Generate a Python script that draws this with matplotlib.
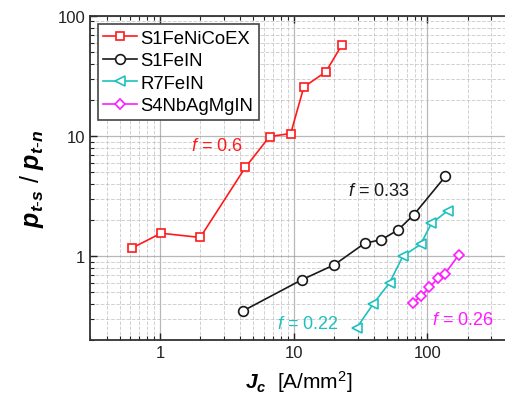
import numpy as np
import matplotlib
matplotlib.use("Agg")
import matplotlib.pyplot as plt
from matplotlib.ticker import LogLocator, NullFormatter, FixedLocator, FixedFormatter

plt.rcParams["font.family"] = ["Liberation Sans", "DejaVu Sans"]
plt.rcParams["mathtext.fontset"] = "custom"
plt.rcParams["mathtext.rm"] = "Liberation Sans"
plt.rcParams["mathtext.it"] = "Liberation Sans:italic"
plt.rcParams["mathtext.bf"] = "Liberation Sans:bold"
plt.rcParams["mathtext.bfit"] = "Liberation Sans:bold:italic"

# S1FeNiCoEX (f = 0.6)
jc_feni = [0.62, 1.02, 2.0, 4.36, 6.6, 9.5, 11.9, 17.4, 22.9]
r_feni = [1.17, 1.55, 1.43, 5.5, 9.9, 10.5, 25.6, 34.3, 57.3]
# S1FeIN (f = 0.33)
jc_fein = [4.19, 11.5, 20.1, 34.0, 45.3, 60.2, 79.1, 136]
r_fein = [0.35, 0.635, 0.846, 1.28, 1.37, 1.65, 2.21, 4.61]
# R7FeIN (f = 0.22)
jc_r7 = [29.5, 39.2, 52.1, 65.5, 88.7, 107, 142]
r_r7 = [0.251, 0.398, 0.60, 1.0, 1.25, 1.87, 2.39]
# S4NbAgMgIN (f = 0.26)
jc_nb = [78, 90.2, 103.5, 119.4, 134.6, 171]
r_nb = [0.41, 0.467, 0.548, 0.652, 0.708, 1.02]

W, H = 505, 414
fig = plt.figure(figsize=(W / 100, H / 100), dpi=100)
# axes spans x 90..508 px (right edge cropped), y 17..341 px
ax = fig.add_axes([90 / W, 1 - 341 / H, 418 / W, 324 / H])

kw = dict(lw=1.2, mfc="white", mew=1.2)
ax.plot(jc_feni, r_feni, "-s", color="#ff1a1a", ms=6, label="S1FeNiCoEX", **kw)
ax.plot(jc_fein, r_fein, "-o", color="#1a1a1a", ms=7, label="S1FeIN", **kw)
ax.plot(jc_r7, r_r7, "-<", color="#1ec0c0", ms=7, label="R7FeIN", **kw)
ax.plot(jc_nb, r_nb, "-D", color="#ff1aff", ms=5, label="S4NbAgMgIN", **kw)

ax.set_xscale("log")
ax.set_yscale("log")
ax.set_xlim(0.3, 400)
ax.set_ylim(0.2, 100)

ax.xaxis.set_major_locator(FixedLocator([1, 10, 100]))
ax.xaxis.set_major_formatter(FixedFormatter(["1", "10", "100"]))
ax.xaxis.set_minor_locator(LogLocator(base=10, subs=np.arange(2, 10)))
ax.xaxis.set_minor_formatter(NullFormatter())
ax.yaxis.set_major_locator(FixedLocator([1, 10, 100]))
ax.yaxis.set_major_formatter(FixedFormatter(["1", "10", "100"]))
ax.yaxis.set_minor_locator(LogLocator(base=10, subs=np.arange(2, 10)))
ax.yaxis.set_minor_formatter(NullFormatter())

ax.tick_params(which="both", direction="in", top=True, right=False,
               labelsize=12, colors="#222222")
ax.tick_params(which="major", length=5, width=1)
ax.tick_params(which="minor", length=3, width=0.8)
ax.grid(which="major", color="#9a9a9a", lw=0.9, alpha=0.7)
ax.grid(which="minor", color="#bdbdbd", lw=0.7, ls="--", alpha=0.7)
ax.set_axisbelow(True)
for sp in ax.spines.values():
    sp.set_color("#333333")
    sp.set_linewidth(1.3)

ax.set_ylabel(r"$\mathbfit{p_{t\text{-}s}}$ / $\mathbfit{p_{t\text{-}n}}$", fontsize=18, labelpad=8)
ax.set_xlabel(r"$\mathbfit{J_c}$  [A/mm$^2$]", fontsize=15, labelpad=6)

ax.annotate("$f$ = 0.6", xy=(217, H - 147), xycoords="figure pixels",
            ha="center", va="center", fontsize=13, color="#ff1a1a")
ax.annotate("$f$ = 0.33", xy=(379, H - 192), xycoords="figure pixels",
            ha="center", va="center", fontsize=13, color="#1a1a1a")
ax.annotate("$f$ = 0.22", xy=(308, H - 325), xycoords="figure pixels",
            ha="center", va="center", fontsize=13, color="#1ec0c0")
ax.annotate("$f$ = 0.26", xy=(463, H - 321), xycoords="figure pixels",
            ha="center", va="center", fontsize=13, color="#ff1aff")

leg = ax.legend(loc="upper left", bbox_to_anchor=(0.019, 0.975), fontsize=13.3,
                handlelength=1.8, handletextpad=0.2, borderpad=0.3,
                labelspacing=0.3, fancybox=False, framealpha=1, borderaxespad=0)
leg.get_frame().set_edgecolor("#444444")
leg.get_frame().set_linewidth(1.2)

fig.savefig("out.png", dpi=100)
